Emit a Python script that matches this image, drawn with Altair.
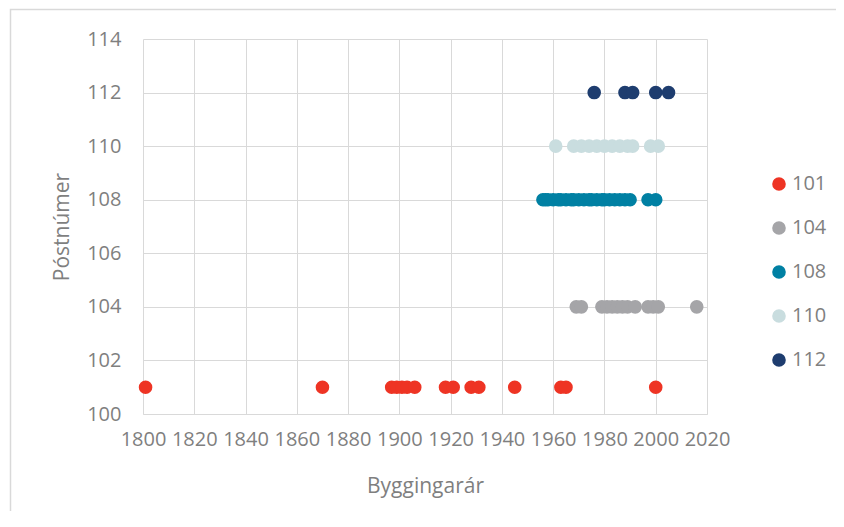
import altair as alt
import pandas as pd

years_101 = [1801, 1870, 1897, 1899, 1901, 1903, 1906, 1918, 1921, 1928, 1931, 1945, 1963, 1965, 2000]
years_104 = [1969, 1971, 1979, 1981, 1983, 1985, 1987, 1989, 1992, 1997, 1999, 2001, 2016]
years_108 = [1956, 1957, 1958, 1960, 1962, 1963, 1965, 1967, 1968, 1970, 1972, 1974, 1975,
             1977, 1979, 1980, 1982, 1984, 1986, 1988, 1990, 1997, 2000]
years_110 = [1961, 1968, 1971, 1974, 1977, 1980, 1983, 1986, 1989, 1991, 1998, 2001]
years_112 = [1976, 1988, 1991, 2000, 2005]

series = {"101": years_101, "104": years_104, "108": years_108, "110": years_110, "112": years_112}
codes = ["101", "104", "108", "110", "112"]
colors = ["#EE3424", "#A5A5A8", "#0080A3", "#C9DDDF", "#1E3D6F"]

x_ticks = list(range(1800, 2021, 20))
y_ticks = list(range(100, 115, 2))

rows = []
for code in codes:
    for yr in series[code]:
        rows.append({"Byggingarár": yr, "Póstnúmer": int(code), "Hópur": code})
df = pd.DataFrame(rows)

FONT = "Open Sans"
GRAY = "#7F7F7F"
GRID = "#D9D9D9"

points = alt.Chart(df).mark_circle(size=185, opacity=1).encode(
    x=alt.X("Byggingarár:Q",
            scale=alt.Scale(domain=[1800, 2020], nice=False, zero=False),
            axis=alt.Axis(values=x_ticks, format="d", title="Byggingarár",
                          grid=True, gridColor=GRID, ticks=False,
                          domainColor=GRID, labelPadding=15, titlePadding=26,
                          labelFlush=False, labelOverlap=False)),
    y=alt.Y("Póstnúmer:Q",
            scale=alt.Scale(domain=[100, 114], nice=False, zero=False),
            axis=alt.Axis(values=y_ticks, format="d", title="Póstnúmer",
                          grid=True, gridColor=GRID, ticks=False, domain=False,
                          labelPadding=22, titlePadding=14)),
    color=alt.Color("Hópur:N",
                    scale=alt.Scale(domain=codes, range=colors),
                    legend=alt.Legend(title=None, orient="none", legendX=626, legendY=135,
                                      symbolType="circle", symbolSize=185,
                                      symbolStrokeWidth=0, rowPadding=24,
                                      labelOffset=3, labelFontSize=20,
                                      labelColor=GRAY, labelFont=FONT)),
)

frame = alt.Chart(pd.DataFrame({"a": [0]})).mark_rect(
    fill=None, stroke=GRID, strokeWidth=1.5
).encode(x=alt.value(-132.5), x2=alt.value(800), y=alt.value(-29.5), y2=alt.value(600))

chart = alt.layer(frame, points).properties(
    width=564, height=375,
    background="white",
    autosize=alt.AutoSizeParams(type="none"),
    padding={"left": 135, "top": 31, "right": 129, "bottom": 97},
).configure_view(stroke=None).configure_axis(
    labelFont=FONT, titleFont=FONT, labelFontSize=20, titleFontSize=21,
    labelColor=GRAY, titleColor=GRAY, titleFontWeight="normal",
)

chart.save("out.html", embed_options={"renderer": "svg", "actions": False})
